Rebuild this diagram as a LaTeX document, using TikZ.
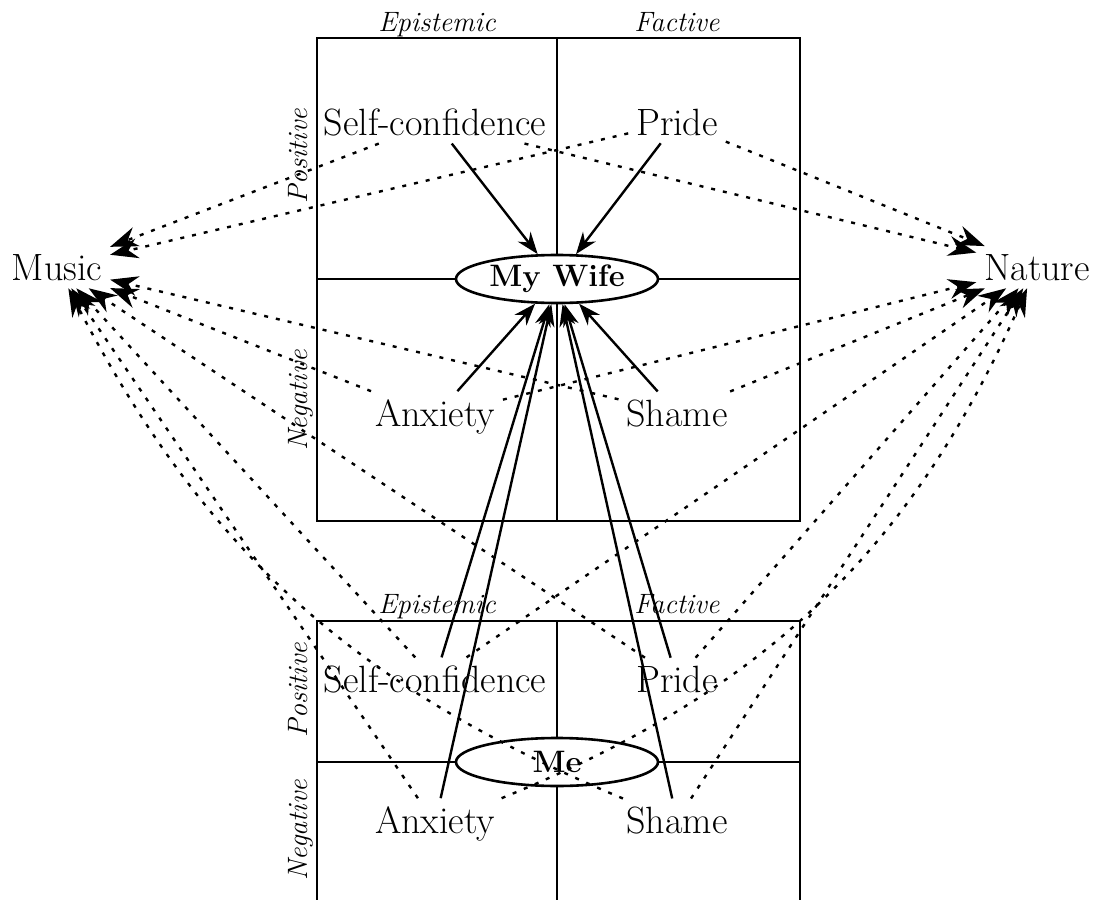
\documentclass[tikz,border=0pt]{standalone}
\usetikzlibrary{arrows.meta,shapes.geometric}

\tikzset{
  emo/.style={font=\fontsize{19}{22}\selectfont},
  side/.style={font=\fontsize{14}{16}\selectfont\itshape},
  who/.style={ellipse,draw,minimum width=101pt,minimum height=24pt,inner sep=0pt,
    font=\fontsize{15.5}{18}\selectfont\bfseries},
  feel/.style={-{Stealth[length=11pt,width=8pt]},line width=1.2pt},
  link/.style={-{Stealth[length=14pt,width=10pt]},line width=1.2pt,dash pattern=on 2pt off 4pt},
}

\begin{document}
\begin{tikzpicture}[x=0.5pt,y=-0.5pt,line width=1.3pt]
    \useasboundingbox (0,0) rectangle (1094,900);
    %\draw[help lines] (0,0) grid (1094,900);
    % upper square
    \node[who] (wife) at (557,279) {My Wife};
    \draw (317,38) rectangle (800,521);
    \draw (317,279) -- (wife) -- (800,279);
    \draw (557,38) -- (wife) -- (557,521);
    % lower square, runs off the page
    \node[who] (me) at (557,762) {Me};
    \draw (317,910) -- (317,621) -- (800,621) -- (800,910);
    \draw (317,762) -- (me) -- (800,762);
    \draw (557,621) -- (me) -- (557,910);
    \foreach \y in {31,613} {
        \node[side,anchor=base] (ep\y) at (437,\y) {Epistemic};
        \node[side,anchor=base] (fa\y) at (677,\y) {Factive};
    }
    \foreach \y/\ytext in {156/Positive,400/Negative,690/Positive,830/Negative}
        \node[side,rotate=90,anchor=base] (si\y) at (307,\y) {\ytext};
    % feelings
    \node[emo,anchor=base] (wconf) at (435,135) {Self-confidence};
    \node[emo,anchor=base] (wpride) at (677,135) {Pride};
    \node[emo,anchor=base] (wanx) at (435,426) {Anxiety};
    \node[emo,anchor=base] (wshame) at (677,426) {Shame};
    \node[emo,anchor=base] (mconf) at (435,692) {Self-confidence};
    \node[emo,anchor=base] (mpride) at (677,692) {Pride};
    \node[emo,anchor=base] (manx) at (435,833) {Anxiety};
    \node[emo,anchor=base] (mshame) at (677,833) {Shame};
    \node[emo,anchor=base] (music) at (57,280) {Music};
    \node[emo,anchor=base] (nature) at (1037,280) {Nature};
    \foreach \e/\bm/\bn in {wconf/0/0,wpride/0/0,wanx/0/0,wshame/0/0,
                            mconf/0/0,mpride/0/0,manx/0/-22,mshame/20/0} {
        \draw[feel] (\e) -- (wife);
        \draw[link] (\e) to[bend left=\bm] (music);
        \draw[link] (\e) to[bend left=\bn] (nature);
    }
\end{tikzpicture}
\end{document}
